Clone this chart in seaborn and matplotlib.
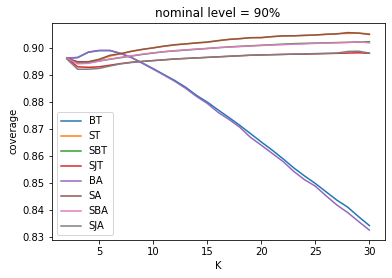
import matplotlib
matplotlib.use("Agg")
import matplotlib.pyplot as plt
import seaborn as sns
import pandas as pd

K = list(range(2, 31))

BT = [0.8963, 0.8965, 0.8985, 0.8991, 0.8991, 0.8980, 0.8965, 0.8945, 0.8924, 0.8902,
      0.8880, 0.8855, 0.8825, 0.8800, 0.8771, 0.8743, 0.8714, 0.8683, 0.8652, 0.8622,
      0.8590, 0.8556, 0.8526, 0.8498, 0.8467, 0.8436, 0.8410, 0.8375, 0.8342]
ST = [0.8963, 0.8948, 0.8949, 0.8957, 0.8971, 0.8979, 0.8988, 0.8995, 0.9002, 0.9007,
      0.9012, 0.9016, 0.9019, 0.9022, 0.9028, 0.9032, 0.9036, 0.9039, 0.9040, 0.9043,
      0.9045, 0.9046, 0.9047, 0.9049, 0.9051, 0.9054, 0.9055, 0.9056, 0.9053]
SBT = [0.8963, 0.8944, 0.8946, 0.8953, 0.8959, 0.8965, 0.8971, 0.8977, 0.8982, 0.8987,
       0.8990, 0.8993, 0.8996, 0.8999, 0.9002, 0.9005, 0.9007, 0.9009, 0.9011, 0.9013,
       0.9015, 0.9017, 0.9018, 0.9019, 0.9020, 0.9021, 0.9022, 0.9023, 0.9024]
SJT = [0.8963, 0.8931, 0.8929, 0.8931, 0.8937, 0.8943, 0.8948, 0.8951, 0.8954, 0.8957,
       0.8960, 0.8962, 0.8964, 0.8966, 0.8968, 0.8970, 0.8972, 0.8974, 0.8975, 0.8976,
       0.8977, 0.8978, 0.8978, 0.8979, 0.8980, 0.8981, 0.8982, 0.8983, 0.8981]
BA = [0.8963, 0.8966, 0.8986, 0.8992, 0.8992, 0.8981, 0.8965, 0.8944, 0.8922, 0.8900,
      0.8877, 0.8851, 0.8821, 0.8795, 0.8762, 0.8736, 0.8707, 0.8669, 0.8640, 0.8610,
      0.8580, 0.8543, 0.8512, 0.8488, 0.8452, 0.8418, 0.8390, 0.8357, 0.8325]
SA = [0.8963, 0.8950, 0.8950, 0.8959, 0.8974, 0.8980, 0.8989, 0.8996, 0.9001, 0.9008,
      0.9013, 0.9016, 0.9020, 0.9023, 0.9028, 0.9033, 0.9035, 0.9039, 0.9039, 0.9043,
      0.9046, 0.9046, 0.9048, 0.9049, 0.9052, 0.9053, 0.9058, 0.9056, 0.9051]
SBA = [0.8963, 0.8942, 0.8944, 0.8952, 0.8960, 0.8966, 0.8972, 0.8978, 0.8983, 0.8987,
       0.8991, 0.8994, 0.8997, 0.8999, 0.9002, 0.9004, 0.9006, 0.9008, 0.9010, 0.9012,
       0.9013, 0.9015, 0.9016, 0.9018, 0.9019, 0.9020, 0.9021, 0.9024, 0.9020]
SJA = [0.8960, 0.8922, 0.8922, 0.8925, 0.8934, 0.8942, 0.8947, 0.8951, 0.8954, 0.8957,
       0.8960, 0.8962, 0.8964, 0.8966, 0.8968, 0.8970, 0.8972, 0.8974, 0.8975, 0.8976,
       0.8977, 0.8978, 0.8979, 0.8980, 0.8981, 0.8982, 0.8988, 0.8989, 0.8982]

methods = ["BT", "ST", "SBT", "SJT", "BA", "SA", "SBA", "SJA"]
series = [BT, ST, SBT, SJT, BA, SA, SBA, SJA]

rows = []
for m, vals in zip(methods, series):
    for k, v in zip(K, vals):
        rows.append({"K": k, "coverage": v, "method": m})
df = pd.DataFrame(rows)

plt.rcParams["font.family"] = ["DejaVu Sans"]
fig = plt.figure(figsize=(392 / 72, 278 / 72), dpi=72)
ax = fig.add_axes([51.7 / 392, (278 - 240) / 278, 332.8 / 392, 217.3 / 278])

sns.lineplot(data=df, x="K", y="coverage", hue="method", hue_order=methods,
             palette=sns.color_palette("tab10", 8), ax=ax, linewidth=1.5)

ax.set_title("nominal level = 90%", fontsize=12)
ax.set_xlabel("K", fontsize=10)
ax.set_ylabel("coverage", fontsize=10)
ax.tick_params(labelsize=10)
ax.set_xticks([5, 10, 15, 20, 25, 30])
ax.legend(loc="lower left", fontsize=10)

fig.savefig("out.png", dpi=72)
